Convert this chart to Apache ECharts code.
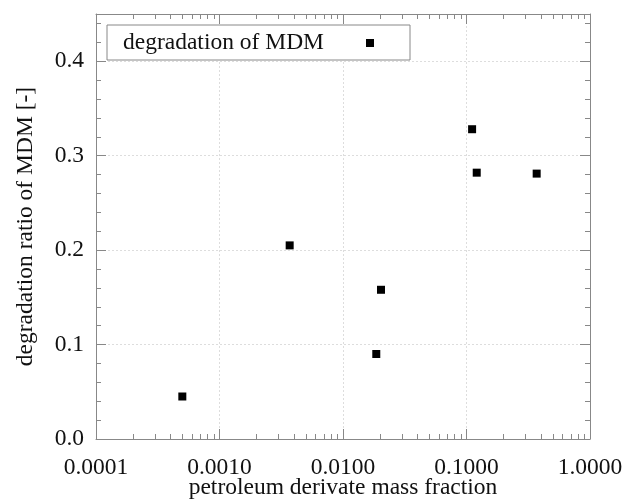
<!DOCTYPE html>
<html>
<head>
<meta charset="utf-8">
<script src="https://cdn.jsdelivr.net/npm/echarts@6/dist/echarts.min.js"></script>
<style>html,body{margin:0;padding:0;background:#fff}#c{width:622px;height:504px}</style>
</head>
<body>
<div id="c"></div>
<script>
// Data
var massFraction = [0.0005, 0.0037, 0.0186, 0.0203, 0.111, 0.121, 0.370];
var degradationRatio = [0.045, 0.205, 0.090, 0.158, 0.328, 0.282, 0.281];
var seriesName = 'degradation of MDM';
var xTitle = 'petroleum derivate mass fraction';
var yTitle = 'degradation ratio of MDM [-]';
var xDecades = [-4, -3, -2, -1];
var minorMultipliers = [2, 3, 4, 5, 6, 7, 8, 9];

var minorLogTicks = [];
xDecades.forEach(function (d) {
  minorMultipliers.forEach(function (m) { minorLogTicks.push(d + Math.log10(m)); });
});

var FONT = 'Liberation Serif';
var AX = '#888888';
var FS = 23.5;

function logAxis(pos, labels) {
  return {
    type: 'log', logBase: 10, min: 0.0001, max: 1, position: pos, gridIndex: 0,
    axisLine: { show: true, onZero: false, lineStyle: { color: AX, width: 1 } },
    axisTick: { show: true, inside: true, length: 10, lineStyle: { color: AX } },
    axisLabel: { show: labels, margin: 17, color: '#111', fontFamily: FONT, fontSize: FS,
      formatter: function (v) { return Number(v).toFixed(4); } },
    splitLine: { show: labels, lineStyle: { color: '#dddddd', type: [2, 2], width: 1 } },
    minorTick: { show: false }, minorSplitLine: { show: false }
  };
}
function minorXAxis(pos) {
  return {
    type: 'value', min: -4, max: 0, position: pos, gridIndex: 0,
    axisLine: { show: false, onZero: false },
    axisTick: { show: true, inside: true, length: 5, customValues: minorLogTicks, lineStyle: { color: AX } },
    axisLabel: { show: false }, splitLine: { show: false }
  };
}
function valAxis(pos, labels) {
  return {
    type: 'value', min: 0, max: 0.45, interval: 0.1, position: pos, gridIndex: 0,
    axisLine: { show: true, onZero: false, lineStyle: { color: AX, width: 1 } },
    axisTick: { show: true, inside: true, length: 10, lineStyle: { color: AX } },
    axisLabel: { show: labels, margin: 12, color: '#111', fontFamily: FONT, fontSize: FS,
      showMaxLabel: false,
      formatter: function (v) { return Math.abs(v * 10 - Math.round(v * 10)) < 1e-6 ? v.toFixed(1) : ''; } },
    splitLine: { show: labels, lineStyle: { color: '#dddddd', type: [2, 2], width: 1 } }
  };
}
function minorYAxis(pos) {
  return {
    type: 'value', min: 0, max: 0.45, interval: 0.02, position: pos, gridIndex: 0,
    axisLine: { show: false, onZero: false },
    axisTick: { show: true, inside: true, length: 5, lineStyle: { color: AX } },
    axisLabel: { show: false }, splitLine: { show: false }
  };
}

var xMain = logAxis('bottom', true);
xMain.name = xTitle;
xMain.nameLocation = 'middle';
xMain.nameGap = 37;
xMain.nameMoveOverlap = false;
xMain.nameTextStyle = { color: '#111', fontFamily: FONT, fontSize: FS };
var yMain = valAxis('left', true);
yMain.name = yTitle;
yMain.nameLocation = 'middle';
yMain.nameGap = 58;
yMain.nameMoveOverlap = false;
yMain.nameTextStyle = { color: '#111', fontFamily: FONT, fontSize: FS };

var chart = echarts.init(document.getElementById('c'), null, { renderer: 'canvas' });
chart.setOption({
  animation: false,
  backgroundColor: '#ffffff',
  grid: { left: 96, right: 32, top: 14, bottom: 65, containLabel: false, outerBoundsMode: 'none' },
  legend: {
    show: true, left: 107, top: 25, orient: 'horizontal', align: 'right',
    backgroundColor: '#ffffff', borderColor: AX, borderWidth: 1, borderRadius: 0,
    padding: [6, 36, 5, 16],
    itemWidth: 8, itemHeight: 8, icon: 'rect',
    textStyle: { color: '#111', fontFamily: FONT, fontSize: FS, padding: [0, 37, 0, 0] },
    data: [{ name: seriesName, icon: 'rect', itemStyle: { color: '#000' } }]
  },
  xAxis: [xMain, minorXAxis('bottom'), logAxis('top', false), minorXAxis('top')],
  yAxis: [yMain, minorYAxis('left'), valAxis('right', false), minorYAxis('right')],
  series: [{
    name: seriesName, type: 'scatter', xAxisIndex: 0, yAxisIndex: 0,
    symbol: 'rect', symbolSize: 8,
    itemStyle: { color: '#000000', opacity: 1 },
    data: massFraction.map(function (x, i) { return [x, degradationRatio[i]]; })
  }]
});
</script>
</body>
</html>
